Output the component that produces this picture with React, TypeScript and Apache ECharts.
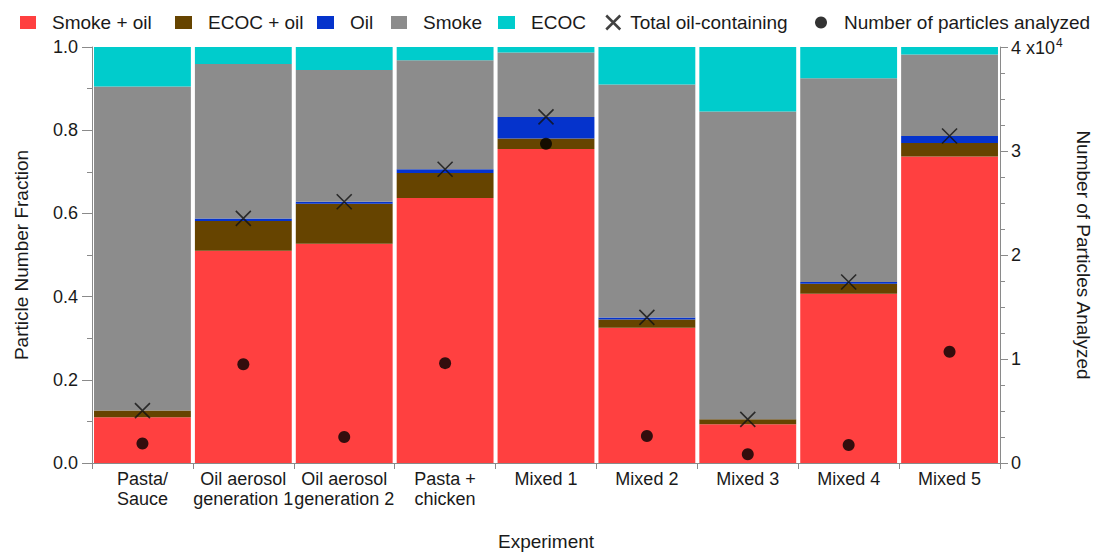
import React, { useEffect, useRef } from "react";
import * as echarts from "echarts";

// Experiments on the category axis
const experiments = [
  "Pasta/\nSauce",
  "Oil aerosol\ngeneration 1",
  "Oil aerosol\ngeneration 2",
  "Pasta +\nchicken",
  "Mixed 1",
  "Mixed 2",
  "Mixed 3",
  "Mixed 4",
  "Mixed 5",
];

// Particle-type fractions (stacked, bottom to top)
const smokeOil = [0.11, 0.51, 0.527, 0.637, 0.755, 0.325, 0.093, 0.407, 0.737];
const ecocOil = [0.016, 0.072, 0.096, 0.06, 0.025, 0.02, 0.012, 0.024, 0.032];
const oilOnly = [0.0, 0.006, 0.005, 0.009, 0.052, 0.005, 0.0, 0.004, 0.017];
const smoke = [0.779, 0.371, 0.317, 0.262, 0.155, 0.56, 0.74, 0.49, 0.196];
const ecoc = [0.095, 0.041, 0.055, 0.032, 0.013, 0.09, 0.155, 0.075, 0.018];

// Total oil-containing fraction per experiment
const totalOil = [0.126, 0.588, 0.628, 0.706, 0.832, 0.35, 0.105, 0.435, 0.786];

// Number of particles analyzed per experiment
const particlesAnalyzed = [1870, 9500, 2500, 9600, 30700, 2600, 840, 1730, 10700];

const leftTicks = [0, 0.2, 0.4, 0.6, 0.8, 1.0];
const rightTicks = [0, 10000, 20000, 30000, 40000];

const COLORS = {
  smokeOil: "#FF4040",
  ecocOil: "#664400",
  oil: "#0533CC",
  smoke: "#8C8C8C",
  ecoc: "#00CCCC",
};

const FONT = "Liberation Sans, Arial, sans-serif";
const TEXT = "#1a1a1a";
const AXIS = "#8a8a8a";
const CROSS = "path://M0,0L10,10M10,0L0,10";

// One legend block per entry, laid out in a single row across the top
const legendLayout = [
  { name: "Smoke + oil", icon: "rect", left: 20, w: 16, h: 13, pad: 11 },
  { name: "ECOC + oil", icon: "rect", left: 175, w: 17, h: 13, pad: 11 },
  { name: "Oil", icon: "rect", left: 317, w: 17, h: 13, pad: 11 },
  { name: "Smoke", icon: "rect", left: 391, w: 16, h: 13, pad: 11 },
  { name: "ECOC", icon: "rect", left: 498, w: 17, h: 13, pad: 11 },
  { name: "Total oil-containing", icon: CROSS, left: 605, w: 14, h: 14, pad: 5 },
  { name: "Number of particles analyzed", icon: "circle", left: 815, w: 12, h: 12, pad: 12 },
];

export default function App() {
  const ref = useRef<HTMLDivElement>(null);

  useEffect(() => {
    document.body.style.margin = "0";
    const chart = echarts.init(ref.current as HTMLDivElement, null, { renderer: "svg" });

    const barSeries = (name: string, data: number[], color: string) => ({
      name,
      type: "bar",
      stack: "fraction",
      data,
      barCategoryGap: "4%",
      itemStyle: { color },
      emphasis: { disabled: true },
    });

    chart.setOption({
      animation: false,
      textStyle: { fontFamily: FONT, color: TEXT },
      legend: legendLayout.map((l) => ({
        left: l.left,
        top: 13,
        itemWidth: l.w,
        itemHeight: l.h,
        padding: 0,
        selectedMode: false,
        textStyle: { fontSize: 19, color: TEXT, fontFamily: FONT, padding: [0, 0, 0, l.pad] },
        data: [
          l.icon === CROSS
            ? {
                name: l.name,
                icon: CROSS,
                itemStyle: { color: "#111", borderColor: "#111", borderWidth: 2.5 },
              }
            : { name: l.name, icon: l.icon },
        ],
      })),
      grid: { left: 92, right: 94, top: 47, bottom: 89, outerBoundsMode: "none" },
      xAxis: {
        type: "category",
        data: experiments,
        name: "Experiment",
        nameLocation: "middle",
        nameGap: 69,
        nameTextStyle: { fontSize: 19, color: TEXT, fontFamily: FONT },
        axisLine: { lineStyle: { color: AXIS, width: 1 } },
        axisTick: { show: true, length: 6, lineStyle: { color: AXIS } },
        axisLabel: { fontSize: 18, color: TEXT, lineHeight: 20, margin: 6, interval: 0 },
      },
      yAxis: [
        {
          type: "value",
          min: 0,
          max: 1,
          interval: 0.2,
          position: "left",
          name: "Particle Number Fraction",
          nameLocation: "middle",
          nameGap: 61,
          nameTextStyle: { fontSize: 19, color: TEXT, fontFamily: FONT },
          axisLine: { show: true, lineStyle: { color: AXIS } },
          axisTick: { show: true, length: 10, lineStyle: { color: AXIS } },
          minorTick: { show: true, splitNumber: 2, length: 5, lineStyle: { color: AXIS } },
          splitLine: { show: false },
          axisLabel: {
            fontSize: 18,
            color: TEXT,
            margin: 14,
            formatter: (v: number) =>
              leftTicks.some((t) => Math.abs(t - v) < 1e-9) ? v.toFixed(1) : "",
          },
        },
        {
          type: "value",
          min: 0,
          max: 40000,
          interval: 10000,
          position: "right",
          name: "Number of Particles Analyzed",
          nameLocation: "middle",
          nameGap: 63,
          nameRotate: -90,
          nameTextStyle: { fontSize: 19, color: TEXT, fontFamily: FONT },
          axisLine: { show: true, lineStyle: { color: AXIS } },
          axisTick: { show: true, length: 8, lineStyle: { color: AXIS } },
          minorTick: { show: true, splitNumber: 4, length: 5, lineStyle: { color: AXIS } },
          splitLine: { show: false },
          axisLabel: {
            fontSize: 18,
            color: TEXT,
            margin: 11,
            formatter: (v: number) => {
              if (!rightTicks.includes(v)) return "";
              if (v === 40000) return "{a|4 x10}{s|4}";
              return String(v / 10000);
            },
            rich: {
              a: { fontSize: 18, color: TEXT, fontFamily: FONT, verticalAlign: "bottom", lineHeight: 20 },
              s: { fontSize: 12, color: TEXT, fontFamily: FONT, verticalAlign: "top", lineHeight: 13, padding: [0, 0, 6, 1] },
            },
          },
        },
      ],
      series: [
        barSeries("Smoke + oil", smokeOil, COLORS.smokeOil),
        barSeries("ECOC + oil", ecocOil, COLORS.ecocOil),
        barSeries("Oil", oilOnly, COLORS.oil),
        barSeries("Smoke", smoke, COLORS.smoke),
        barSeries("ECOC", ecoc, COLORS.ecoc),
        {
          name: "Total oil-containing",
          type: "scatter",
          yAxisIndex: 0,
          data: totalOil,
          symbol: CROSS,
          symbolSize: 15,
          itemStyle: { color: "#111", borderColor: "#111", borderWidth: 1.6 },
          z: 5,
          emphasis: { disabled: true },
        },
        {
          name: "Number of particles analyzed",
          type: "scatter",
          yAxisIndex: 1,
          data: particlesAnalyzed,
          symbol: "circle",
          symbolSize: 12,
          itemStyle: { color: "#000" },
          z: 5,
          emphasis: { disabled: true },
        },
      ],
    });

    return () => chart.dispose();
  }, []);

  return <div ref={ref} style={{ width: 1094, height: 552 }} />;
}
